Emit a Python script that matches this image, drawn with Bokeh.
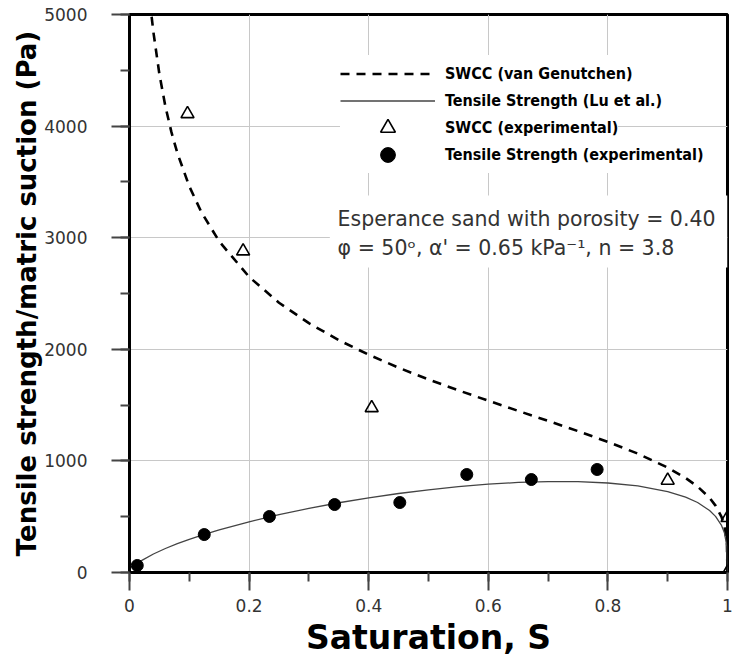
from bokeh.plotting import figure
from bokeh.models import (Range1d, SingleIntervalTicker, NumeralTickFormatter, Legend,
                          LegendItem, Label, BoxAnnotation)
from bokeh.embed import file_html
from bokeh.resources import INLINE

# ---- data ----
swcc_curve_s = [0.037, 0.04, 0.05, 0.06, 0.07, 0.08, 0.10, 0.12, 0.15, 0.20, 0.25, 0.30,
                0.35, 0.40, 0.45, 0.50, 0.55, 0.60, 0.65, 0.70, 0.75, 0.80, 0.85, 0.90,
                0.93, 0.95, 0.97, 0.98, 0.99, 0.995, 0.999, 1.0]
swcc_curve_psi = [4980, 4841, 4465, 4177, 3948, 3759, 3460, 3231, 2967, 2649, 2417, 2234,
                  2082, 1951, 1835, 1730, 1632, 1539, 1448, 1358, 1267, 1170, 1065, 940,
                  847, 770, 669, 599, 498, 414, 271, 0]

tensile_curve_s = [0.01, 0.02, 0.04, 0.06, 0.08, 0.10, 0.12, 0.15, 0.20, 0.25, 0.30, 0.35,
                   0.40, 0.45, 0.50, 0.55, 0.60, 0.65, 0.70, 0.75, 0.80, 0.85, 0.90, 0.93,
                   0.95, 0.97, 0.98, 0.99, 0.995, 0.999, 1.0]
tensile_curve_sigma = [68, 106, 166, 215, 258, 297, 332, 381, 454, 518, 574, 625,
                       669, 708, 741, 769, 791, 807, 815, 814, 802, 776, 725, 675,
                       627, 556, 503, 422, 353, 232, 0]

swcc_exp_s = [0.097, 0.19, 0.405, 0.90, 1.0, 1.0]
swcc_exp_psi = [4110, 2880, 1475, 825, 490, 0]

tensile_exp_s = [0.013, 0.125, 0.234, 0.343, 0.452, 0.564, 0.672, 0.782]
tensile_exp_sigma = [63, 340, 502, 609, 627, 878, 833, 923]

x_label = "Saturation, S"
y_label = "Tensile strength/matric suction (Pa)"
legend_labels = ["SWCC (van Genutchen)", "Tensile Strength (Lu et al.)",
                 "SWCC (experimental)", "Tensile Strength (experimental)"]
note_line1 = "Esperance sand with porosity = 0.40"
note_line2 = "\u03c6 = 50\u1d52, \u03b1' = 0.65 kPa\u207b\u00b9, n = 3.8"

FONT = "DejaVu Sans"
LEGEND_FONT = "DejaVu Sans Condensed"

p = figure(width=734, height=664, output_backend="svg", toolbar_location=None,
           x_range=Range1d(0, 1), y_range=Range1d(0, 5000),
           min_border_left=129, min_border_right=7, min_border_top=14, min_border_bottom=92)
p.background_fill_color = "white"
p.border_fill_color = "white"
p.outline_line_color = "black"
p.outline_line_width = 3

# axes
p.xaxis.ticker = SingleIntervalTicker(interval=0.2, num_minor_ticks=2)
p.yaxis.ticker = SingleIntervalTicker(interval=1000, num_minor_ticks=2)
p.xaxis.formatter = NumeralTickFormatter(format="0.[0]")
for ax in (p.xaxis[0], p.yaxis[0]):
    ax.axis_line_color = "black"
    ax.axis_line_width = 3
    ax.major_tick_in = 0
    ax.major_tick_out = 18
    ax.minor_tick_in = 0
    ax.minor_tick_out = 9
    ax.major_tick_line_color = "#444444"
    ax.major_tick_line_width = 2
    ax.minor_tick_line_color = "#444444"
    ax.minor_tick_line_width = 2
    ax.major_label_text_font = FONT
    ax.major_label_text_font_size = "17px"
    ax.major_label_text_color = "#333333"
    ax.axis_label_text_font = FONT
    ax.axis_label_text_font_style = "bold"
    ax.axis_label_text_color = "black"
p.xaxis.major_label_standoff = 8
p.yaxis.major_label_standoff = 24
p.xaxis.axis_label = x_label
p.yaxis.axis_label = y_label
p.xaxis.axis_label_text_font_size = "33px"
p.yaxis.axis_label_text_font_size = "26px"
p.xaxis.axis_label_standoff = 3
p.yaxis.axis_label_standoff = -1

p.xgrid.grid_line_color = "#c8c8c8"
p.ygrid.grid_line_color = "#c8c8c8"
p.xgrid.grid_line_width = 1
p.ygrid.grid_line_width = 1

# curves and points
r_dash = p.line(swcc_curve_s, swcc_curve_psi, line_color="black", line_width=2.6,
                line_dash="9 7")
r_solid = p.line(tensile_curve_s, tensile_curve_sigma, line_color="#444444", line_width=1.3)
r_tri = p.scatter(swcc_exp_s, swcc_exp_psi, marker="triangle", size=13,
                  fill_color=None, line_color="black", line_width=1.6)
r_circ = p.scatter(tensile_exp_s, tensile_exp_sigma, marker="circle", size=12,
                   fill_color="black", line_color="black")

# one legend box per row so that the rows sit 27 px apart with large symbols
GH = 37
row_centers = [73, 100, 127, 154]   # screen rows of the reference legend
for lab, rend, yc in zip(legend_labels, [r_dash, r_solid, r_tri, r_circ], row_centers):
    lg = Legend(items=[LegendItem(label=lab, renderers=[rend])],
                location=(211, 572 - (yc + GH / 2)), glyph_width=95, glyph_height=GH,
                label_height=GH, spacing=0, padding=5, margin=0, label_standoff=10,
                border_line_color=None, background_fill_color="white",
                background_fill_alpha=1.0,
                label_text_font=LEGEND_FONT, label_text_font_style="bold",
                label_text_font_size="16px", label_text_color="black")
    p.add_layout(lg)

# annotation with white backing box
p.add_layout(BoxAnnotation(left=0.335, right=1.0, bottom=2733, top=3378,
                           fill_color="white", fill_alpha=1.0, line_color=None))
p.add_layout(Label(x=0.348, y=3172, text=note_line1, text_baseline="middle",
                   text_font=FONT, text_font_size="20.5px", text_color="#333333"))
p.add_layout(Label(x=0.348, y=2912, text=note_line2, text_baseline="middle",
                   text_font=FONT, text_font_size="20.5px", text_color="#333333"))

open("out.html", "w").write(file_html(p, INLINE))
